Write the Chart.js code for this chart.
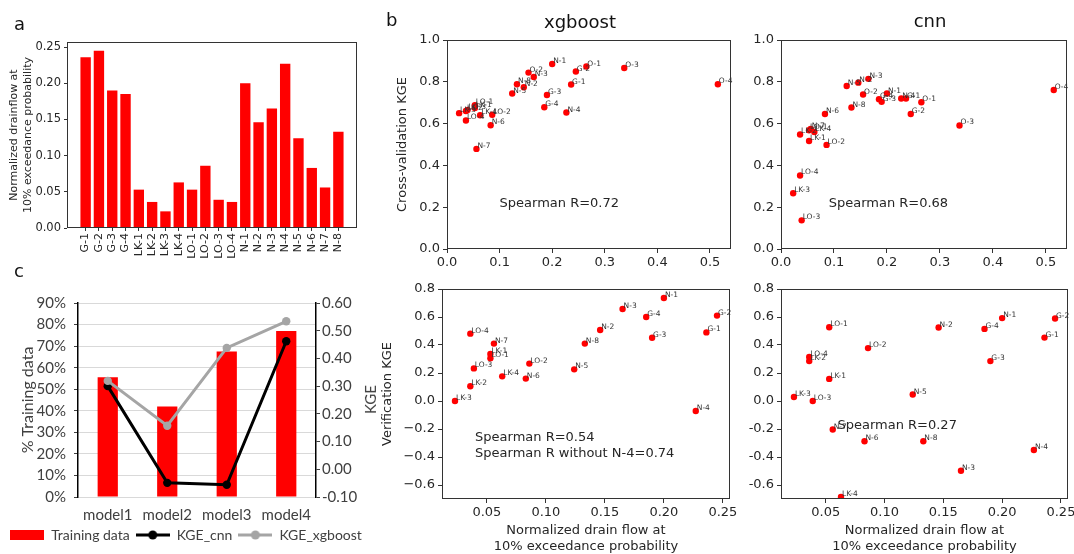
<!DOCTYPE html>
<html>
<head>
<meta charset="utf-8">
<title>drainflow vs KGE</title>
<script src="https://cdn.jsdelivr.net/npm/chart.js@4.4.1/dist/chart.umd.min.js"></script>
<style>
body { margin: 0; background: #fff; }
#fig { position: relative; width: 1074px; height: 554px; overflow: hidden; }
#fig canvas { position: absolute; }
.txt { position: absolute; font-family: 'DejaVu Sans'; color: #111; line-height: 1; white-space: nowrap; }
</style>
</head>
<body>
<div id="fig">
<canvas id="chartA" width="360" height="244" style="left:0;top:30px"></canvas>
<canvas id="chartC" width="372" height="269" style="left:0;top:285px"></canvas>
<canvas id="topXgb" width="360" height="245" style="left:375px;top:28px"></canvas>
<canvas id="topCnn" width="329" height="245" style="left:745px;top:28px"></canvas>
<canvas id="botXgb" width="376" height="276" style="left:370px;top:278px"></canvas>
<canvas id="botCnn" width="329" height="276" style="left:745px;top:278px"></canvas>
<div class="txt" style="left:14px;top:15px;font-size:18px">a</div>
<div class="txt" style="left:386px;top:11px;font-size:18px">b</div>
<div class="txt" style="left:14px;top:262px;font-size:18px">c</div>
<div class="txt" style="left:530px;top:13px;width:100px;text-align:center;font-size:18px">xgboost</div>
<div class="txt" style="left:880px;top:12px;width:100px;text-align:center;font-size:18px">cnn</div>
<div class="txt" style="left:356px;top:392px;font-family:Lato;font-size:15px;color:#404040;transform:rotate(-90deg)">KGE</div>
</div>
<script>
// stations and normalized drain flow at 10% exceedance probability
const stations = ['G-1','G-2','G-3','G-4','LK-1','LK-2','LK-3','LK-4','LO-1','LO-2','LO-3','LO-4','N-1','N-2','N-3','N-4','N-5','N-6','N-7','N-8']
const drainflow = [0.236,0.245,0.190,0.185,0.053,0.036,0.023,0.063,0.053,0.086,0.039,0.036,0.200,0.146,0.165,0.227,0.124,0.083,0.056,0.133]
const oStations = ['O-1','O-2','O-3','O-4']
const oDrainflow = [0.265,0.155,0.337,0.515]

// cross-validation KGE
const cvXgboost = [0.787,0.849,0.737,0.678,0.675,0.660,0.650,0.640,0.688,0.642,0.665,0.615,0.885,0.774,0.823,0.653,0.744,0.592,0.479,0.788]
const cvXgboostO = [0.873,0.844,0.866,0.788]
const cvCnn = [0.720,0.646,0.704,0.717,0.517,0.548,0.267,0.560,0.568,0.498,0.137,0.352,0.744,0.796,0.814,0.720,0.780,0.646,0.575,0.677]
const cvCnnO = [0.702,0.739,0.591,0.761]

// verification KGE
const verXgboost = [0.490,0.610,0.452,0.600,0.336,0.105,0.000,0.176,0.305,0.267,0.233,0.481,0.736,0.507,0.657,-0.071,0.226,0.160,0.410,0.410]
const verCnn = [0.453,0.589,0.285,0.515,0.158,0.285,0.029,-0.685,0.527,0.378,0.000,0.314,0.592,0.525,-0.498,-0.350,0.046,-0.287,-0.204,-0.287]

// panel c
const models = ['model1','model2','model3','model4']
const trainingPct = [55.5,42,67.5,77]
const kgeCnn = [0.30,-0.049,-0.056,0.462]
const kgeXgboost = [0.319,0.157,0.438,0.534]

// tick labels
const ticksA = [0,0.05,0.10,0.15,0.20,0.25]
const ticksTopX = [0,0.1,0.2,0.3,0.4,0.5]
const ticksTopY = [0,0.2,0.4,0.6,0.8,1.0]
const ticksBotX = [0.05,0.10,0.15,0.20,0.25]
const ticksBotY = [-0.6,-0.4,-0.2,0,0.2,0.4,0.6,0.8]
const ticksPct = [0,10,20,30,40,50,60,70,80,90]
const ticksKge = [-0.1,0,0.1,0.2,0.3,0.4,0.5,0.6]

Chart.defaults.font.family = 'DejaVu Sans'
Chart.defaults.animation = false
Chart.defaults.plugins.tooltip.enabled = false
Chart.defaults.plugins.legend.display = false

const ink = '#262626'

// matplotlib box around the plot
const frame = {
	id: 'frame',
	afterDraw(chart){
		const a = chart.chartArea, ctx = chart.ctx
		ctx.save()
		ctx.strokeStyle = '#333'
		ctx.lineWidth = 1
		ctx.strokeRect(Math.round(a.left) + 0.5, Math.round(a.top) + 0.5, Math.round(a.right - a.left) - 1, Math.round(a.bottom - a.top) - 1)
		ctx.restore()
	}
}

// station name next to each point
const pointNames = {
	id: 'pointNames',
	afterDatasetsDraw(chart){
		const ctx = chart.ctx
		ctx.save()
		ctx.font = '7.5px "DejaVu Sans"'
		ctx.fillStyle = '#333'
		chart.data.datasets.forEach((ds, i) => {
			chart.getDatasetMeta(i).data.forEach((p, j) => {
				ctx.fillText(ds.data[j].name, p.x + 1, p.y - 1)
			})
		})
		ctx.restore()
	}
}

// Spearman text at data coordinates
const note = {
	id: 'note',
	afterDraw(chart, args, opts){
		if (!opts.lines) return
		const ctx = chart.ctx
		const x = chart.scales.x.getPixelForValue(opts.x)
		const y = chart.scales.y.getPixelForValue(opts.y)
		ctx.save()
		ctx.font = '13px "DejaVu Sans"'
		ctx.fillStyle = ink
		opts.lines.forEach((t, k) => ctx.fillText(t, x, y - (opts.lines.length - 1 - k) * 16.5))
		ctx.restore()
	}
}

function xAxis(min, max, ticks, fmt, height, title){
	return {
		type: 'linear', min: min, max: max, offset: false,
		border: {display: false},
		grid: {drawOnChartArea: false, tickLength: 4, color: '#333', offset: false},
		ticks: {font: {size: 13}, color: ink, padding: 2, autoSkip: false, maxRotation: 0, callback: fmt},
		title: title ? {display: true, text: title, font: {size: 13}, color: ink, padding: {top: 0, bottom: 0}} : {display: false},
		afterBuildTicks: s => { s.ticks = ticks.map(v => ({value: v})) },
		afterFit: s => { s.height = height; s.paddingLeft = 0; s.paddingRight = 0 }
	}
}

function yAxis(min, max, ticks, fmt, width, title, titlePad){
	return {
		type: 'linear', min: min, max: max,
		border: {display: false},
		grid: {drawOnChartArea: false, tickLength: 4, color: '#333'},
		ticks: {font: {size: 13}, color: ink, padding: 3, autoSkip: false, callback: fmt},
		title: title ? {display: true, text: title, font: {size: 13}, color: ink, padding: {top: titlePad, bottom: 0}} : {display: false},
		afterBuildTicks: s => { s.ticks = ticks.map(v => ({value: v})) },
		afterFit: s => { s.width = width; s.paddingTop = 0; s.paddingBottom = 0 }
	}
}

function pts(xs, ys, names){
	return xs.map((x, i) => ({x: x, y: ys[i], name: names[i]}))
}

function scatterChart(id, points, o){
	return new Chart(document.getElementById(id), {
		type: 'scatter',
		data: {datasets: [{data: points, backgroundColor: '#ff0000', borderWidth: 0, pointRadius: 3.2}]},
		options: {
			responsive: false,
			events: [],
			layout: {padding: o.padding},
			scales: {x: o.x, y: o.y},
			plugins: {note: o.note}
		},
		plugins: [frame, pointNames, note]
	})
}

const f1 = v => v.toFixed(1)
const f2 = v => v.toFixed(2)
const fMinus = v => (v < -1e-9 ? '\u2212' : '') + Math.abs(v).toFixed(1)
const xTitle = ['Normalized drain flow at', '10% exceedance probability']

scatterChart('topXgb', pts(drainflow, cvXgboost, stations).concat(pts(oDrainflow, cvXgboostO, oStations)), {
	padding: {top: 12, left: 0, right: 2, bottom: 0},
	x: xAxis(0, 0.54, ticksTopX, f1, 24),
	y: yAxis(0, 1, ticksTopY, f1, 72, 'Cross-validation KGE', 20),
	note: {x: 0.1, y: 0.2, lines: ['Spearman R=0.72']}
})

scatterChart('topCnn', pts(drainflow, cvCnn, stations).concat(pts(oDrainflow, cvCnnO, oStations)), {
	padding: {top: 12, left: 0, right: 7, bottom: 0},
	x: xAxis(0, 0.54, ticksTopX, f1, 24),
	y: yAxis(0, 1, ticksTopY, f1, 36),
	note: {x: 0.09, y: 0.2, lines: ['Spearman R=0.68']}
})

scatterChart('botXgb', pts(drainflow, verXgboost, stations), {
	padding: {top: 11, left: 0, right: 16, bottom: 0},
	x: xAxis(0.012, 0.256, ticksBotX, f2, 55, xTitle),
	y: yAxis(-0.7, 0.8, ticksBotY, fMinus, 72, 'Verification KGE', 10),
	note: {x: 0.04, y: -0.4, lines: ['Spearman R=0.54', 'Spearman R without N-4=0.74']}
})

scatterChart('botCnn', pts(drainflow, verCnn, stations), {
	padding: {top: 11, left: 0, right: 6, bottom: 0},
	x: xAxis(0.012, 0.256, ticksBotX, f2, 55, xTitle),
	y: yAxis(-0.7, 0.8, ticksBotY, f1, 36),
	note: {x: 0.06, y: -0.2, lines: ['Spearman R=0.27']}
})

// panel a
const axA = yAxis(0, 0.257, ticksA, f2, 67, ['Normalized drainflow at', '10% exceedance probability'], 8)
axA.ticks.font = {size: 11.5}
axA.grid.tickLength = 3
axA.title.font = {size: 11}
new Chart(document.getElementById('chartA'), {
	type: 'bar',
	data: {datasets: [{data: drainflow.map((v, i) => ({x: i, y: v})), backgroundColor: '#ff0000', categoryPercentage: 1, barPercentage: 0.78}]},
	options: {
		responsive: false,
		events: [],
		layout: {padding: {top: 12, left: 0, right: 3, bottom: 0}},
		scales: {
			x: {
				type: 'linear', min: -1.4, max: 20.4, offset: false,
				border: {display: false},
				grid: {drawOnChartArea: false, tickLength: 3, color: '#333', offset: false},
				ticks: {font: {size: 11}, color: ink, padding: 2, autoSkip: false, minRotation: 90, maxRotation: 90, callback: v => stations[v]},
				afterBuildTicks: s => { s.ticks = stations.map((n, i) => ({value: i})) },
				afterFit: s => { s.height = 46; s.paddingLeft = 0; s.paddingRight = 0 }
			},
			y: axA
		}
	},
	plugins: [frame]
})

// panel c
function legendIcon(kind, color){
	const c = document.createElement('canvas')
	c.width = 34
	c.height = 12
	const g = c.getContext('2d')
	g.fillStyle = color
	g.strokeStyle = color
	if (kind == 'box') {
		g.fillRect(0, 1, 34, 10)
	} else {
		g.lineWidth = 3
		g.beginPath(); g.moveTo(0, 6); g.lineTo(34, 6); g.stroke()
		g.beginPath(); g.arc(17, 6, 4.5, 0, Math.PI * 2); g.fill()
	}
	return c
}
const icons = [legendIcon('box', '#ff0000'), legendIcon('line', '#000000'), legendIcon('line', '#a5a5a5')]
const xl = {family: 'Lato', size: 15}
const grey = '#404040'

new Chart(document.getElementById('chartC'), {
	type: 'bar',
	data: {
		labels: models,
		datasets: [
			{type: 'bar', label: 'Training data', data: trainingPct, backgroundColor: '#ff0000', yAxisID: 'y', order: 3, categoryPercentage: 1, barPercentage: 0.34},
			{type: 'line', label: 'KGE_cnn', data: kgeCnn, borderColor: '#000', backgroundColor: '#000', borderWidth: 3, pointRadius: 4.2, pointBorderWidth: 0, yAxisID: 'y1', order: 2},
			{type: 'line', label: 'KGE_xgboost', data: kgeXgboost, borderColor: '#a5a5a5', backgroundColor: '#a5a5a5', borderWidth: 3, pointRadius: 4.2, pointBorderWidth: 0, yAxisID: 'y1', order: 1}
		]
	},
	options: {
		responsive: false,
		events: [],
		layout: {padding: {top: 18, left: 0, right: 0, bottom: 2}},
		scales: {
			x: {
				grid: {display: false, drawTicks: false},
				border: {display: false},
				ticks: {font: xl, color: grey, padding: 9},
				afterFit: s => { s.height = 25 }
			},
			y: {
				position: 'left', min: 0, max: 90,
				border: {display: true, color: '#000', width: 1.5},
				grid: {color: '#d9d9d9', lineWidth: 1, tickColor: grey, tickLength: 4},
				ticks: {font: xl, color: grey, padding: 8, autoSkip: false, callback: v => v + '%'},
				title: {display: true, text: '% Training data', font: {family: 'Lato', size: 16}, color: grey, padding: {top: 18, bottom: 0}},
				afterBuildTicks: s => { s.ticks = ticksPct.map(v => ({value: v})) },
				afterFit: s => { s.width = 78 }
			},
			y1: {
				position: 'right', min: -0.1, max: 0.6,
				border: {display: true, color: '#000', width: 1.5},
				grid: {drawOnChartArea: false, tickColor: grey, tickLength: 4},
				ticks: {font: xl, color: grey, padding: 2, autoSkip: false, callback: v => v.toFixed(2)},
				afterBuildTicks: s => { s.ticks = ticksKge.map(v => ({value: v})) },
				afterFit: s => { s.width = 56 }
			}
		},
		plugins: {
			legend: {
				display: true,
				position: 'bottom',
				labels: {
					usePointStyle: true, pointStyleWidth: 34, padding: 6,
					color: grey, font: {family: 'Lato', size: 14},
					sort: (a, b) => a.datasetIndex - b.datasetIndex,
					generateLabels: chart => Chart.defaults.plugins.legend.labels.generateLabels(chart).map(l => ({...l, pointStyle: icons[l.datasetIndex]}))
				}
			}
		}
	}
})
</script>
</body>
</html>
